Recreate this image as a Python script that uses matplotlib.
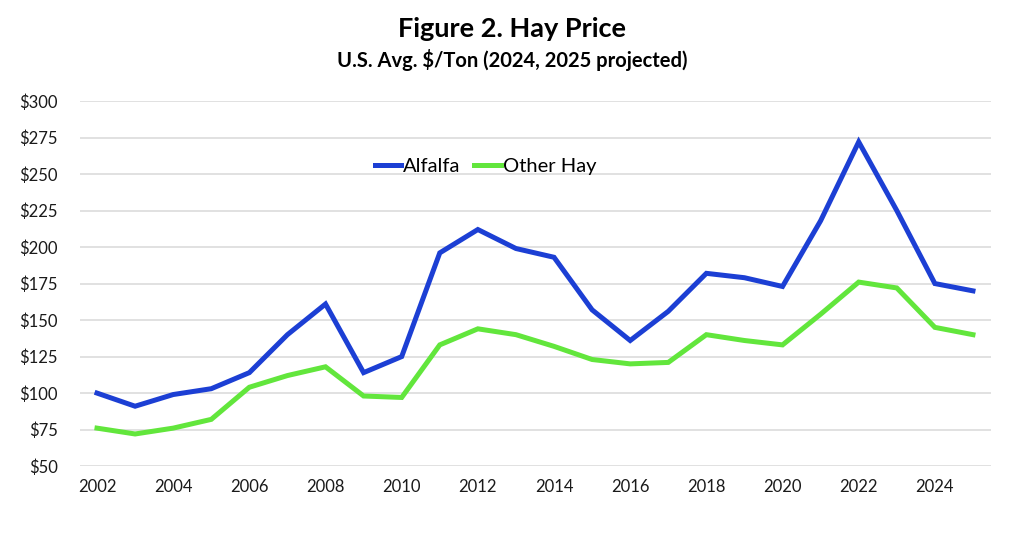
import numpy as np
import matplotlib.pyplot as plt
from matplotlib.ticker import FuncFormatter

years = list(range(2002, 2026))
alfalfa = [100, 91, 99, 103, 114, 140, 161, 114, 125, 196, 212, 199, 193, 157,
           136, 156, 182, 179, 173, 218, 272, 225, 175, 170]
other_hay = [76, 72, 76, 82, 104, 112, 118, 98, 97, 133, 144, 140, 132, 123,
             120, 121, 140, 136, 133, 154, 176, 172, 145, 140]

plt.rcParams['font.family'] = ['Lato', 'DejaVu Sans']

fig = plt.figure(figsize=(10.24, 5.49), dpi=100)
ax = fig.add_axes([0.078, 0.151, 0.89, 0.665])

ax.plot(years, alfalfa, color="#1c3fd4", lw=3.6, label="Alfalfa",
        solid_joinstyle="miter")
ax.plot(years, other_hay, color="#62e63c", lw=3.6, label="Other Hay",
        solid_joinstyle="miter")

ax.set_xlim(2001.55, 2025.48)
ax.set_ylim(50, 300)
ax.set_yticks(np.arange(50, 301, 25))
ax.set_xticks(range(2002, 2026, 2))
ax.yaxis.set_major_formatter(FuncFormatter(lambda v, p: f"${v:.0f}"))
ax.grid(axis="y", color="#dcdcdc", lw=1.2)
ax.set_axisbelow(True)
for s in ax.spines.values():
    s.set_visible(False)
ax.tick_params(length=0, labelsize=12, colors="#1a1a1a")
ax.tick_params(axis="y", pad=16)
ax.tick_params(axis="x", pad=9)

ax.legend(loc="center", bbox_to_anchor=(0.445, 0.82), ncol=2, frameon=False,
          fontsize=14.5, handlelength=1.3, handletextpad=0.1, columnspacing=0.7)

fig.text(0.5, 0.948, "Figure 2. Hay Price", ha="center", va="center",
         fontsize=19.5, fontweight="bold")
fig.text(0.5, 0.89, "U.S. Avg. $/Ton (2024, 2025 projected)", ha="center",
         va="center", fontsize=14.5, fontweight="bold")

fig.savefig("out.png", dpi=100)
